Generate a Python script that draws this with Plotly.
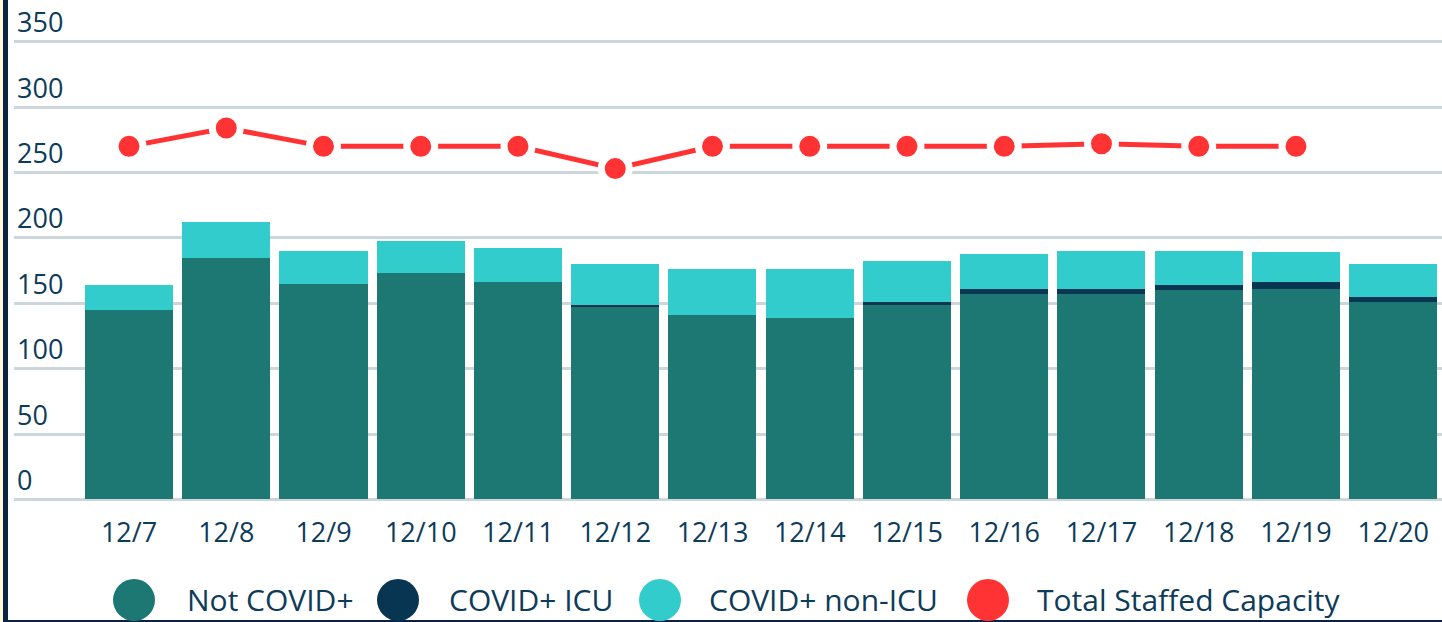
import plotly.graph_objects as go

dates = ["12/7", "12/8", "12/9", "12/10", "12/11", "12/12", "12/13",
         "12/14", "12/15", "12/16", "12/17", "12/18", "12/19", "12/20"]
not_covid = [145, 185, 165, 173, 166, 147, 141, 139, 149, 157, 157, 160, 161, 151]
covid_icu = [0, 0, 0, 0, 0, 2, 0, 0, 2, 4, 4, 4, 5, 4]
covid_non_icu = [19, 27, 25, 25, 26, 31, 35, 37, 31, 27, 29, 26, 23, 25]
staffed_capacity = [270, 284, 270, 270, 270, 253, 270, 270, 270, 270, 272, 270, 270, None]
y_ticks = [0, 50, 100, 150, 200, 250, 300, 350]

series_names = ["Not COVID+", "COVID+ ICU", "COVID+ non-ICU", "Total Staffed Capacity"]
colors = ["#1d7874", "#073552", "#33cccc", "#ff3333"]
text_color = "#0d3b5a"
font_family = "Open Sans"

W, H = 1442, 622
L, R, T, B = 14, 0, 0, 122
pw, ph = W - L - R, H - T - B


def px_x(p):
    return (p - L) / pw


def px_y(p):
    return (H - B - p) / ph


fig = go.Figure()
for vals, name, col in zip([not_covid, covid_icu, covid_non_icu], series_names[:3], colors[:3]):
    fig.add_trace(go.Bar(x=dates, y=vals, name=name, marker=dict(color=col, line=dict(width=0)),
                         showlegend=False))

fig.add_trace(go.Scatter(x=dates, y=staffed_capacity, name=series_names[3], mode="lines+markers",
                         line=dict(color=colors[3], width=5),
                         marker=dict(size=28, color=colors[3], line=dict(color="white", width=7)),
                         showlegend=False, connectgaps=False))

shapes = []
# left border strips and bottom line
shapes.append(dict(type="rect", xref="paper", yref="paper", x0=px_x(0), x1=px_x(3),
                   y0=px_y(H), y1=px_y(0), fillcolor="#fdf8d8", line=dict(width=0), layer="above"))
shapes.append(dict(type="rect", xref="paper", yref="paper", x0=px_x(3), x1=px_x(8),
                   y0=px_y(H), y1=px_y(0), fillcolor="#0a2344", line=dict(width=0), layer="above"))
shapes.append(dict(type="rect", xref="paper", yref="paper", x0=px_x(8), x1=px_x(W),
                   y0=px_y(H), y1=px_y(H - 2), fillcolor="#0a2344", line=dict(width=0), layer="above"))

annotations = []
legend_cx = [134, 398, 660, 988]
legend_tx = [185, 447, 707, 1035]
legend_cy = 600
r = 21
for name, col, cx, tx in zip(series_names, colors, legend_cx, legend_tx):
    shapes.append(dict(type="circle", xref="paper", yref="paper",
                       x0=px_x(cx - r), x1=px_x(cx + r), y0=px_y(legend_cy + r), y1=px_y(legend_cy - r),
                       fillcolor=col, line=dict(width=0), layer="above"))
    annotations.append(dict(text=name, xref="paper", yref="paper", x=px_x(tx), y=px_y(legend_cy - 1),
                            xanchor="left", yanchor="middle", showarrow=False,
                            font=dict(family=font_family, size=30, color=text_color)))

fig.update_layout(
    width=W, height=H,
    margin=dict(l=L, r=R, t=T, b=B, pad=0),
    paper_bgcolor="white", plot_bgcolor="white",
    barmode="stack", bargap=0.095,
    showlegend=False,
    shapes=shapes, annotations=annotations,
    font=dict(family=font_family, color=text_color),
    xaxis=dict(type="category", range=[-1.1825, 13.5015], showgrid=False, zeroline=False,
               showline=False, ticks="", tickfont=dict(size=27, color=text_color),
               ticklabelstandoff=14),
    yaxis=dict(range=[-0.4, 381.9], tickvals=y_ticks, showgrid=True, gridcolor="#cdd6dd",
               gridwidth=3, zeroline=True, zerolinecolor="#cdd6dd", zerolinewidth=3,
               showline=False, ticks="", ticklabelposition="inside top",
               tickfont=dict(size=27, color=text_color)),
)

fig.write_html("out.html", config={"displayModeBar": False},
               post_script="document.body.style.margin='0';document.body.style.overflow='hidden';")
